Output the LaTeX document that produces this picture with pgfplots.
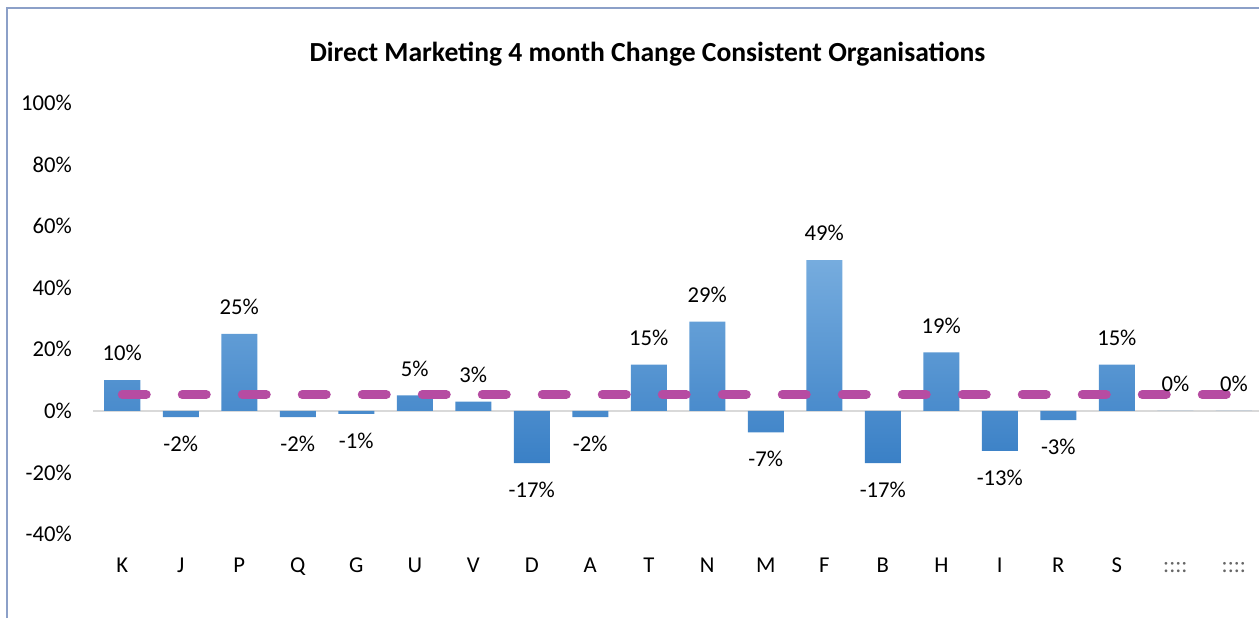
\documentclass[border=0pt]{standalone}
\usepackage{pgfplots}
\pgfplotsset{compat=1.18}
\usepackage{pgfplotstable}
\usepackage{fontspec}
\setmainfont{Carlito}
\definecolor{barTop}{RGB}{118,172,222}
\definecolor{barBot}{RGB}{58,128,198}
\definecolor{avgline}{RGB}{182,76,162}
\definecolor{frame}{RGB}{140,160,200}
\pgfplotstableread{
x y
0 10
1 -2
2 25
3 -2
4 -1
5 5
6 3
7 -17
8 -2
9 15
10 29
11 -7
12 49
13 -17
14 19
15 -13
16 -3
17 15
18 0
19 0
}\datatable
\begin{document}
\begin{tikzpicture}
\useasboundingbox (0pt,0pt) rectangle (944.25pt,463.5pt);
\draw[frame, line width=0.9pt] (5.25pt,0pt) -- (5.25pt,457.5pt) -- (944.25pt,457.5pt);
\node[font=\fontsize{20.7}{24}\selectfont\bfseries, anchor=base] at (485.6pt,417pt) {Direct Marketing 4 month Change Consistent Organisations};
\begin{axis}[
  at={(69.75pt,63pt)}, anchor=south west,
  scale only axis, width=874.5pt, height=323.25pt,
  xmin=-0.5, xmax=19.43, ymin=-40, ymax=100,
  axis line style={draw=none},
  major tick length=0pt,
  xtick={0,...,19},
  xticklabels={K,J,P,Q,G,U,V,D,A,T,N,M,F,B,H,I,R,S,{\textcolor{black!60}{::::}},{\textcolor{black!60}{::::}}},
  ytick={-40,-20,0,20,40,60,80,100},
  yticklabels={-40\%,-20\%,0\%,20\%,40\%,60\%,80\%,100\%},
  tick label style={font=\fontsize{17}{20}\selectfont, text=black},
  xticklabel style={anchor=base, inner sep=0pt, yshift=-28.5pt},
  yticklabel style={anchor=east, inner sep=0pt, xshift=-15.75pt},
  clip=false,
]
\draw[black!15, line width=1.1pt] (axis cs:-0.5,0) -- (axis cs:19.43,0);
\addplot[ybar, bar width=27pt, draw=none, top color=barTop, bottom color=barBot] table[x=x,y=y] {\datatable};
\addplot[sharp plot, avgline, line width=6.75pt, line cap=round, dash pattern=on 18pt off 27pt] coordinates {(0,5.3) (19,5.3)};
\addplot[ybar, bar width=27pt, draw=none, fill=none,
  nodes near coords={\pgfmathprintnumber[assume math mode=true]{\pgfplotspointmeta}\%},
  every node near coord/.append style={font=\fontsize{17}{20}\selectfont, text=black, inner ysep=14pt, inner xsep=0pt}
] table[x=x,y=y] {\datatable};
\end{axis}
\end{tikzpicture}
\end{document}
